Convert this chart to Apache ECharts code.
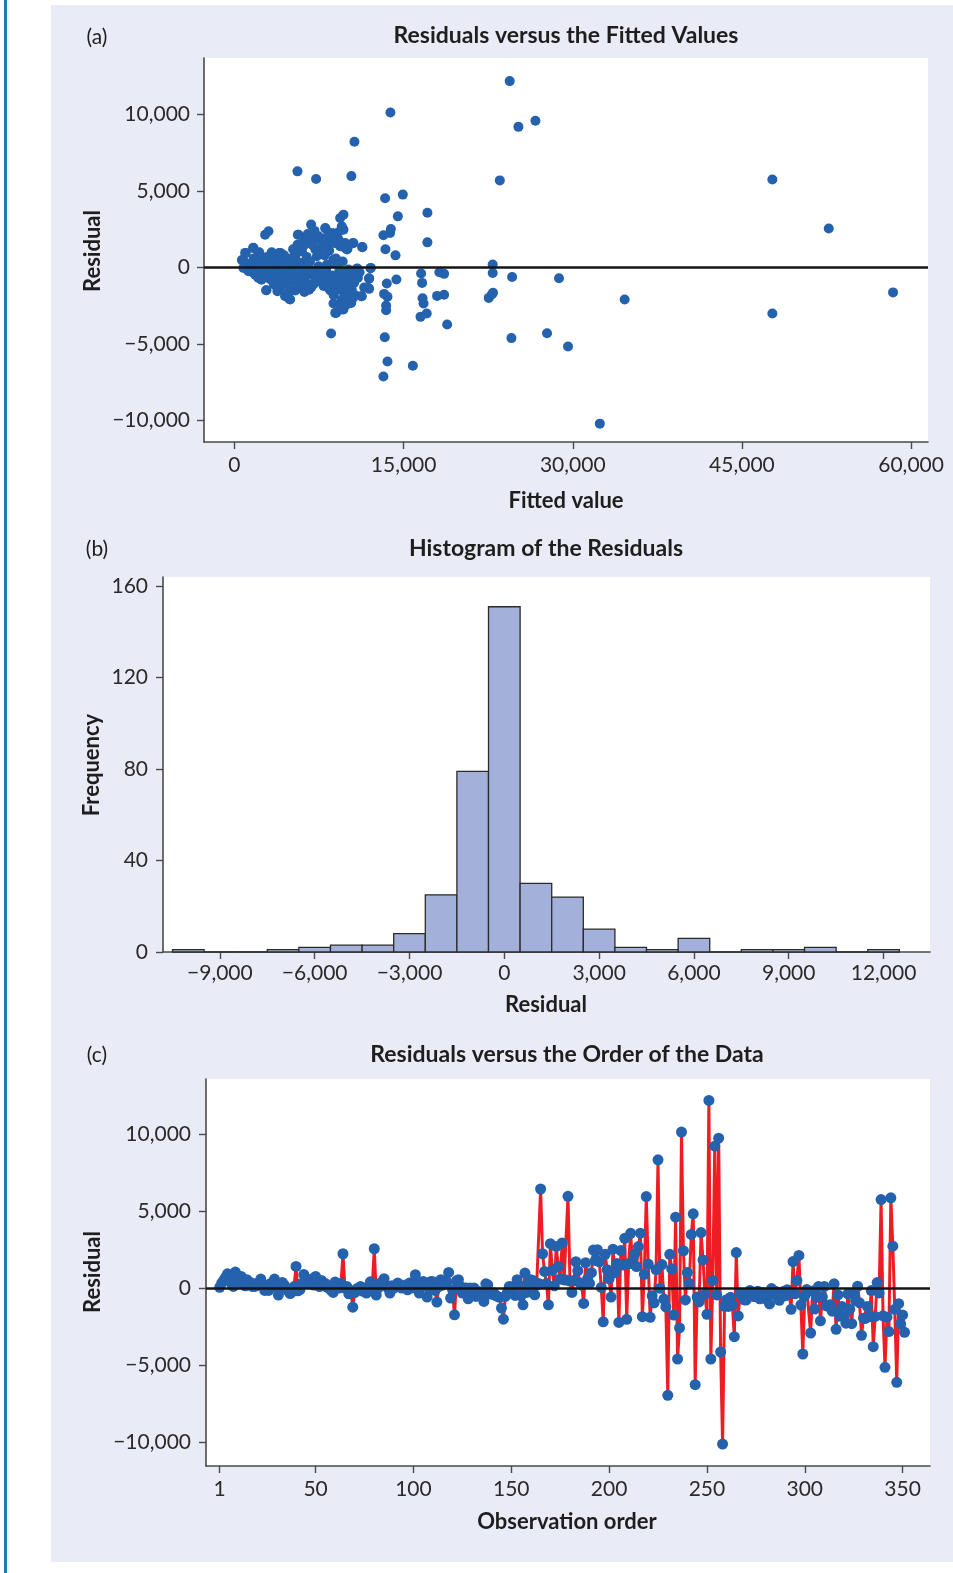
<!DOCTYPE html>
<html><head><meta charset="utf-8">
<script src="https://cdn.jsdelivr.net/npm/echarts@6/dist/echarts.min.js"></script>
<style>html,body{margin:0;padding:0;background:#fff}#c{width:953px;height:1573px}</style>
</head><body><div id="c"></div>
<script>
// ---------- DATA ----------
// Panel (a): [fitted value, residual]
const pointsA = [
[24410,12190],[13830,10140],[25180,9200],[26690,9600],[10640,8220],[5590,6290],[7240,5790],[10370,5980],[23530,5700],[47700,5760],
[52700,2560],[58400,-1620],[47700,-3000],[34600,-2080],[28780,-700],[27720,-4290],[29580,-5160],[32400,-10200],[24560,-4610],[24620,-610],
[22900,200],[22900,-350],[22550,-1980],[22930,-1650],[22820,-1760],[18860,-3720],[17110,3590],[17110,1650],[14930,4770],[13360,4530],
[14490,3350],[13210,2110],[13800,2260],[13870,2520],[13390,1200],[14280,800],[13510,-1040],[13270,-1720],[13570,-1910],[13450,-2480],
[13450,-2790],[14360,-780],[13330,-4550],[13570,-6140],[13210,-7120],[15820,-6420],[16550,-390],[16640,-1000],[18170,-310],[18590,-410],
[16680,-2000],[16770,-2350],[16500,-3220],[17050,-3000],[17970,-1850],[18590,-1780],[8570,-4310],[9020,-2960],[9670,-2740],[8780,-2350],
[10290,-2300],[11260,-1870],[11940,-1390],[11940,-700],[12060,-40],[10910,-650],[10910,-60],[11320,1350],
[5680,2150],[8070,2550],[8720,2200],[10490,1590],[9320,1500],[10030,1240],[4880,-2050],[2840,-1480],[660,500],[1010,960],
[1660,1290],[1480,-240],[2130,-630],[3960,960],[5410,780],[6620,-1440],[4490,-1870],[3810,-1550],
[800,460],[950,960],[800,-20],[1690,1280],[2130,850],[1540,300],[1250,-240],[1840,-460],[2130,-680],[2720,2150],
[3020,2370],[2430,300],[2870,-130],[3190,-780],[2810,-1480],[3610,410],[4080,960],[4230,-570],[3930,-1440],[4350,200],
[4500,-1000],[4940,-2090],[4790,-1650],[5380,850],[5620,2150],[5830,-570],[5240,-780],[5980,1070],[6420,90],[6570,-1440],
[6800,2810],[6710,1610],[7020,1940],[7170,1180],[7460,2050],[7310,740],[7460,90],[7610,-570],[7760,-890],[8050,2590],
[8350,1610],[8650,2260],[8200,200],[8350,-1330],[8780,520],[8870,-1110],[9230,200],[9370,3240],[9670,3460],[9520,2700],
[9670,2480],[9230,1830],[9370,1390],[9820,1280],[9970,1180],[9080,-570],[9370,-1440],[9670,-1000],[10110,-890],[10260,-1760],
[10400,-1440],[9970,-2090],[9520,-2090],[8940,-2960],[9520,-2740],[10350,-2310],[10850,-70],[10940,-680],[11290,-1870],[11350,1330],
[10550,1610],[9820,1610],[11880,-1330],[11940,-720],[12090,-20],[8130,-130],[7760,-680],[8650,-520],[8400,-1000],[9230,-780],
[9820,-460],[10110,-130],[10490,-460],[7020,-460],[6270,-350],[5530,90],[5090,-350],[4790,90],[4350,-350],[3900,-130],
[3460,-460],[3190,410],[2130,90],[3610,-1000],[4050,-1330],[5830,-1330],[6270,-1000],[7170,-780],[6710,-130],[5530,-570],
[1200,200],[1400,-100],[1700,600],[1900,-300],[2000,300],[2300,-200],[2500,500],[2600,-400],[2800,100],[3000,-300],
[3100,600],[3300,-600],[3400,200],[3500,-1100],[3700,-200],[3800,700],[4000,-800],[4100,300],[4200,-200],[4400,-900],
[4600,400],[4700,-500],[4900,-1200],[5000,600],[5100,-200],[5300,-700],[5500,400],[5700,-1000],[5900,300],[6000,-300],
[6100,1400],[6300,-600],[6400,700],[6600,-1100],[6700,400],[6900,1500],[7000,-200],[7200,1900],[7300,-900],[7500,1200],
[7600,-300],[7800,1700],[7900,-1200],[8000,800],[8200,-600],[8400,1100],[8500,-1500],[8700,300],[8800,-1800],[9000,600],
[9100,-1200],[9300,-200],[9400,-2500],[9600,400],[9700,-1600],[9900,-800],[10000,-2400],[10200,-1200],[10300,-200],[10600,-1000],
[10700,-1800],[11100,-300],[11500,-1300],[2200,1000],[2900,700],[3300,1000],[4400,800],[5200,1200],[5600,1500],[6200,1800],
[6500,2200],[7100,2400],[7400,1000],[7700,1400],[8100,1900],[8300,2100],[8900,1600],[9200,2300],[6800,-1300],[7500,-600],
[8100,-900],[8600,-1200],[9500,-1400],[9800,-2000],[10100,-1600],[10500,-2000],[1600,-300],[2400,-800],[3600,-900],[4300,-1100],
[5400,-1500],[6200,-1600],[7000,-1100],[3800,-1300]
];
const ticksAx = [0, 15000, 30000, 45000, 60000];
const ticksAy = [-10000, -5000, 0, 5000, 10000];

// Panel (b): histogram bins (centres) and counts
const histCenters = [-10000,-9000,-8000,-7000,-6000,-5000,-4000,-3000,-2000,-1000,0,1000,2000,3000,4000,5000,6000,7000,8000,9000,10000,11000,12000];
const histCounts  = [1,0,0,1,2,3,3,8,25,79,151,30,24,10,2,1,6,0,1,1,2,0,1];
const histBinWidth = 1000;
const ticksBx = [-9000,-6000,-3000,0,3000,6000,9000,12000];
const ticksBy = [0,40,80,120,160];

// Panel (c): residuals in observation order
const residC = [
50,320,500,700,930,600,300,110,1040,800,
400,760,300,150,540,200,350,100,110,300,
200,585,250,-150,100,-150,300,100,585,200,
-455,100,370,200,0,-200,-350,-250,100,1410,
-175,-100,300,890,400,540,300,600,200,760,
390,100,500,217,300,50,0,-150,-280,390,
200,0,300,2235,0,100,-370,-200,-1237,-300,
-43,0,100,-200,0,-325,-100,412,200,2560,
-455,0,300,400,608,200,0,-325,150,0,
100,325,217,0,100,200,-108,325,0,400,
868,300,-325,100,434,200,-586,0,434,412,
-150,-911,100,543,200,300,400,1020,-651,-108,
-1736,477,543,100,-325,0,0,-694,0,-200,
0,-543,-200,-300,-500,-868,282,217,-300,-400,
-300,-477,-543,-600,-1302,-2018,-540,-300,108,65,
-200,-477,543,200,-500,-1085,977,-282,300,543,
500,-434,200,300,6445,2235,1085,300,-1085,2886,
1150,152,2712,1410,600,2930,543,520,5968,455,
-282,500,1714,1128,347,200,-1000,1650,600,304,
1000,2474,1800,2495,1714,43,-2192,2200,1200,600,
-580,2530,1000,1600,-2235,2440,1500,3240,-2030,1600,
3560,1600,2200,1400,2700,3570,-1855,900,5957,1560,
-1900,-500,-966,1200,8344,-10,1530,-715,-1226,-6976,
2200,1250,-1750,4610,-4610,-2590,10145,2430,-770,1010,
300,3490,4828,-6280,-575,-900,3613,1834,-390,-1704,
12206,-4610,500,9233,-445,9754,-4155,-10145,-1180,-750,
-1193,-600,-1096,-3157,2311,-1811,-315,-500,-760,-781,
-300,-163,-400,-553,-300,-200,-694,-500,-300,-700,-400,
-1031,-30,-400,-200,-500,-792,-300,-228,-500,-100,
-300,-1378,1725,-370,500,2126,-1096,-4286,-500,-97,
-200,-2919,-185,-1367,-600,97,-2126,-564,108,-1150,
-1172,-1085,-1500,280,-2680,-445,-1834,-1200,-1866,-2280,
-370,-1378,-2312,-390,-800,120,-955,-3070,-1953,-1975,
-1200,-1855,-163,-3810,-1845,358,-315,5760,-1800,-5154,
-1888,-2830,5870,2724,-1378,-6130,-1010,-2333,-1747,-2875
];
const ticksCx = [1,50,100,150,200,250,300,350];
const ticksCy = [-10000,-5000,0,5000,10000];

// ---------- CHART ----------
const fmt = v => (v < 0 ? '\u2212' : '') + Math.abs(v).toLocaleString('en-US');
const FONT = 'Lato';
const BLUE = '#2462ae', RED = '#ee1d24', AX = '#4a4a4a', TXT = '#2a2a2a';

function valAxis(grid, min, max, ticks, margin, formatter) {
  return {
    type: 'value', gridIndex: grid, min: min, max: max, scale: true,
    axisLine: { show: true, onZero: false, lineStyle: { color: AX, width: 1.6 } },
    axisTick: { show: true, customValues: ticks, length: 7, inside: false, lineStyle: { color: AX, width: 1.4 } },
    axisLabel: { customValues: ticks, margin: margin, formatter: formatter, color: TXT, fontFamily: FONT, fontSize: 21 },
    splitLine: { show: false }
  };
}

function txt(x, y, s, opts) {
  opts = opts || {};
  return {
    type: 'text', x: x, y: y, rotation: opts.rot || 0,
    style: { text: s, fill: '#1e1e1e', font: (opts.bold ? 'bold ' : '') + (opts.size || 22) + 'px ' + FONT,
             align: 'center', verticalAlign: 'middle' }
  };
}

const chart = echarts.init(document.getElementById('c'), null, { renderer: 'canvas' });

const zeroLine = {
  silent: true, symbol: 'none', label: { show: false },
  lineStyle: { color: '#151515', width: 2.6, type: 'solid' }, data: [{ yAxis: 0 }]
};

chart.setOption({
  animation: false,
  backgroundColor: '#e9ecf6',
  graphic: [
    { type: 'rect', shape: { x: 0, y: 0, width: 51, height: 1573 }, style: { fill: '#ffffff' } },
    { type: 'rect', shape: { x: 0, y: 0, width: 953, height: 5 }, style: { fill: '#ffffff' } },
    { type: 'rect', shape: { x: 0, y: 1562, width: 953, height: 11 }, style: { fill: '#ffffff' } },
    { type: 'rect', shape: { x: 4, y: 0, width: 3, height: 1573 }, style: { fill: '#1c7db5' } },
    txt(97, 37, '(a)', { size: 21 }),
    txt(566, 36, 'Residuals versus the Fitted Values', { bold: true, size: 23 }),
    txt(93, 251, 'Residual', { bold: true, rot: Math.PI / 2 }),
    txt(566, 501, 'Fitted value', { bold: true }),
    txt(97, 549, '(b)', { size: 21 }),
    txt(546, 549, 'Histogram of the Residuals', { bold: true, size: 23 }),
    txt(92, 765, 'Frequency', { bold: true, rot: Math.PI / 2 }),
    txt(546, 1005, 'Residual', { bold: true }),
    txt(97, 1055, '(c)', { size: 21 }),
    txt(567, 1055, 'Residuals versus the Order of the Data', { bold: true, size: 23 }),
    txt(93, 1272, 'Residual', { bold: true, rot: Math.PI / 2 }),
    txt(567, 1522, 'Observation order', { bold: true })
  ],
  grid: [
    { left: 204, top: 58, width: 724, height: 384, show: true, backgroundColor: '#ffffff', borderWidth: 0 },
    { left: 163, top: 577, width: 767, height: 375, show: true, backgroundColor: '#ffffff', borderWidth: 0 },
    { left: 206, top: 1079, width: 724, height: 387, show: true, backgroundColor: '#ffffff', borderWidth: 0 }
  ],
  xAxis: [
    valAxis(0, -2700, 61500, ticksAx, 13, fmt),
    valAxis(1, -10800, 13470, ticksBx, 11, fmt),
    valAxis(2, -6, 364, ticksCx, 13, v => String(v))
  ],
  yAxis: [
    valAxis(0, -11400, 13700, ticksAy, 14, fmt),
    valAxis(1, 0, 164, ticksBy, 15, fmt),
    valAxis(2, -11570, 13600, ticksCy, 15, fmt)
  ],
  series: [
    { type: 'scatter', xAxisIndex: 0, yAxisIndex: 0, data: [], z: 1, markLine: zeroLine },
    { type: 'scatter', xAxisIndex: 0, yAxisIndex: 0, z: 3, symbolSize: 10,
      itemStyle: { color: BLUE, opacity: 1 }, data: pointsA },
    { type: 'custom', xAxisIndex: 1, yAxisIndex: 1, z: 3,
      data: histCenters.map((c, i) => [c - histBinWidth / 2, c + histBinWidth / 2, histCounts[i]]),
      encode: { x: [0, 1], y: 2 },
      renderItem: function (params, api) {
        const p0 = api.coord([api.value(0), api.value(2)]);
        const p1 = api.coord([api.value(1), 0]);
        return { type: 'rect',
          shape: { x: p0[0], y: p0[1], width: p1[0] - p0[0], height: p1[1] - p0[1] },
          style: { fill: '#a2b0da', stroke: '#2b2b2b', lineWidth: 1.3 } };
      }
    },
    { type: 'scatter', xAxisIndex: 2, yAxisIndex: 2, data: [], z: 1, markLine: zeroLine },
    { type: 'line', xAxisIndex: 2, yAxisIndex: 2, z: 3,
      data: residC.map((v, i) => [i + 1, v]),
      showSymbol: true, symbol: 'circle', symbolSize: 11,
      lineStyle: { color: RED, width: 3 },
      itemStyle: { color: BLUE, borderWidth: 0 }
    }
  ]
});
</script>
</body></html>
